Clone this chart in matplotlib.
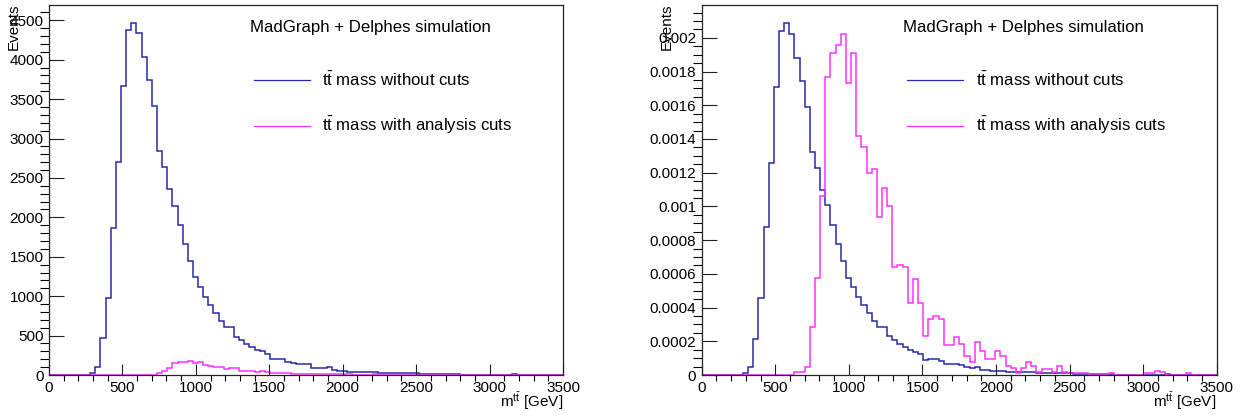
import numpy as np
import matplotlib
matplotlib.use("Agg")
import matplotlib.pyplot as plt
from matplotlib.lines import Line2D
from matplotlib.ticker import MultipleLocator, FuncFormatter

# 100 bins of 35 GeV from 0 to 3500
bin_edges = np.linspace(0, 3500, 101)

# left panel: raw event counts
blue_counts = [
    0, 0, 0, 0, 0, 0, 0, 0, 20, 100,
    465, 975, 1870, 2700, 3660, 4380, 4470, 4340, 4030, 3745,
    3415, 2840, 2635, 2360, 2150, 1900, 1660, 1450, 1240, 1115,
    995, 890, 790, 685, 605, 615, 485, 445, 395, 350,
    315, 300, 265, 200, 205, 200, 160, 150, 145, 140,
    140, 95, 90, 85, 105, 65, 55, 45, 40, 40,
    38, 35, 35, 33, 30, 30, 28, 25, 25, 22,
    20, 20, 18, 15, 12, 12, 10, 10, 10, 8,
    0, 0, 0, 0, 0, 0, 0, 0, 0, 0,
    10, 0, 0, 0, 0, 0, 0, 0, 0, 0,
]
magenta_counts = [
    0, 0, 0, 0, 0, 0, 0, 0, 0, 0,
    0, 0, 0, 0, 0, 0, 0, 0, 2, 2,
    4, 24, 55, 95, 150, 163, 168, 172, 148, 163,
    122, 116, 103, 105, 80, 95, 86, 55, 56, 55,
    37, 49, 37, 20, 28, 30, 28, 15, 15, 19,
    16, 10, 7, 17, 12, 8, 8, 12, 9, 5,
    3, 1, 3, 7, 5, 1, 3, 3, 1, 5,
    2, 1, 1, 1, 1, 1, 1, 1, 1, 1,
    0, 0, 0, 0, 0, 0, 1, 1, 2, 2,
    0, 0, 0, 0, 1, 0, 0, 0, 0, 0,
]

# right panel: normalised distributions
blue_norm = [
    0, 0, 0, 0, 0, 0, 0, 0, 0.000012, 0.000048,
    0.000216, 0.000455, 0.000875, 0.00126, 0.00171, 0.00204, 0.00209, 0.00202, 0.00188, 0.001746,
    0.00159, 0.001325, 0.001229, 0.0011, 0.001006, 0.000888, 0.000775, 0.000676, 0.000578, 0.000519,
    0.000463, 0.000414, 0.000369, 0.000321, 0.000282, 0.000286, 0.000231, 0.000207, 0.000183, 0.000164,
    0.000148, 0.000138, 0.000124, 0.000089, 0.000095, 0.000095, 0.000083, 0.000066, 0.000066, 0.000065,
    0.00006, 0.000045, 0.00004, 0.000048, 0.00003, 0.00003, 0.000026, 0.000024, 0.000022, 0.00002,
    0.00002, 0.000017, 0.000017, 0.000016, 0.000015, 0.000013, 0.000012, 0.000011, 0.000011, 0.00001,
    0.00001, 0.000009, 0.000008, 0.000007, 0.000006, 0.000006, 0.000005, 0.000005, 0.000004, 0.000004,
    0, 0, 0, 0, 0, 0, 0, 0, 0, 0,
    0.000005, 0, 0, 0, 0, 0, 0, 0, 0, 0,
]
magenta_norm = [
    0, 0, 0, 0, 0, 0, 0, 0, 0, 0,
    0, 0, 0, 0, 0, 0, 0, 0, 0.00002, 0.00002,
    0.000045, 0.000282, 0.000578, 0.00106, 0.001765, 0.00191, 0.00196, 0.00202, 0.00173, 0.00191,
    0.00142, 0.00135, 0.0012, 0.00122, 0.00094, 0.00111, 0.001, 0.00064, 0.00065, 0.00064,
    0.00043, 0.00057, 0.00043, 0.00023, 0.00033, 0.00035, 0.00033, 0.000176, 0.000176, 0.000223,
    0.000185, 0.000112, 0.000079, 0.000197, 0.00014, 0.000095, 0.000095, 0.00014, 0.00011, 0.000053,
    0.00004, 0.00001, 0.00004, 0.000079, 0.000055, 0.000015, 0.000033, 0.000033, 0.000015, 0.000055,
    0.000018, 0.00001, 0.00001, 0.00001, 0.000014, 0.000006, 0.000006, 0.000006, 0.000006, 0.00001,
    0, 0, 0, 0, 0, 0, 0.00001, 0.00001, 0.000026, 0.000018,
    0, 0, 0, 0, 0.00001, 0, 0, 0, 0, 0,
]

labels = [r"$\mathrm{t\bar{t}}$ mass without cuts",
          r"$\mathrm{t\bar{t}}$ mass with analysis cuts"]
colors = ["#2a2aaa", "#ff30ff"]

plt.rcParams["font.family"] = ["Liberation Sans", "DejaVu Sans"]
plt.rcParams["mathtext.fontset"] = "custom"
plt.rcParams["mathtext.rm"] = "Liberation Sans"
plt.rcParams["mathtext.it"] = "Liberation Sans:italic"

fig = plt.figure(figsize=(12.46, 4.19), dpi=100)
W, H = 1246, 419
ax1 = fig.add_axes([49 / W, 44 / H, 514 / W, 370 / H])
ax2 = fig.add_axes([701.7 / W, 44 / H, 515 / W, 370 / H])


def style(ax, series, ymajor, yminor, fmt):
    for vals, c in zip(series, colors):
        ax.stairs(vals, bin_edges, color=c, lw=1.1)
    ax.set_xlim(0, 3500)
    ax.set_ylim(0, 1.05 * max(max(v) for v in series))
    ax.xaxis.set_major_locator(MultipleLocator(500))
    ax.xaxis.set_minor_locator(MultipleLocator(100))
    ax.yaxis.set_major_locator(MultipleLocator(ymajor))
    ax.yaxis.set_minor_locator(MultipleLocator(yminor))
    ax.yaxis.set_major_formatter(FuncFormatter(fmt))
    ax.tick_params(direction="in", top=False, right=False, labelsize=11, pad=4,
                   width=0.8, color="#222222")
    ax.tick_params(axis="x", which="major", length=7.7)
    ax.tick_params(axis="x", which="minor", length=4.3, width=0.8)
    ax.tick_params(axis="y", which="major", length=11)
    ax.tick_params(axis="y", which="minor", length=6.5, width=0.8)
    for s in ax.spines.values():
        s.set_linewidth(0.9)
        s.set_color("#222222")
    ax.set_xlabel(r"$\mathrm{m^{t\bar{t}}}$ [GeV]", fontsize=11, loc="right")
    ax.xaxis.set_label_coords(1.0, -0.042)
    ax.xaxis.label.set_va("top")
    ax.set_ylabel("Events", fontsize=11, loc="top")
    ax.yaxis.set_label_coords(-0.055, 1.005)
    ax.text(0.391, 0.9405, "MadGraph + Delphes simulation", transform=ax.transAxes,
            fontsize=12.1, va="center", ha="left")
    handles = [Line2D([], [], color=c, lw=0.9) for c in colors]
    ax.legend(handles, labels, loc="upper left", bbox_to_anchor=(0.399, 0.823),
              frameon=False, fontsize=12.1, handlelength=3.35, handletextpad=0.72,
              labelspacing=1.58, borderpad=0, borderaxespad=0)


style(ax1, [blue_counts, magenta_counts], 500, 100, lambda v, p: f"{v:.0f}")
style(ax2, [blue_norm, magenta_norm], 0.0002, 0.00005, lambda v, p: f"{round(v, 6):g}")

fig.savefig("out.png", dpi=100)
